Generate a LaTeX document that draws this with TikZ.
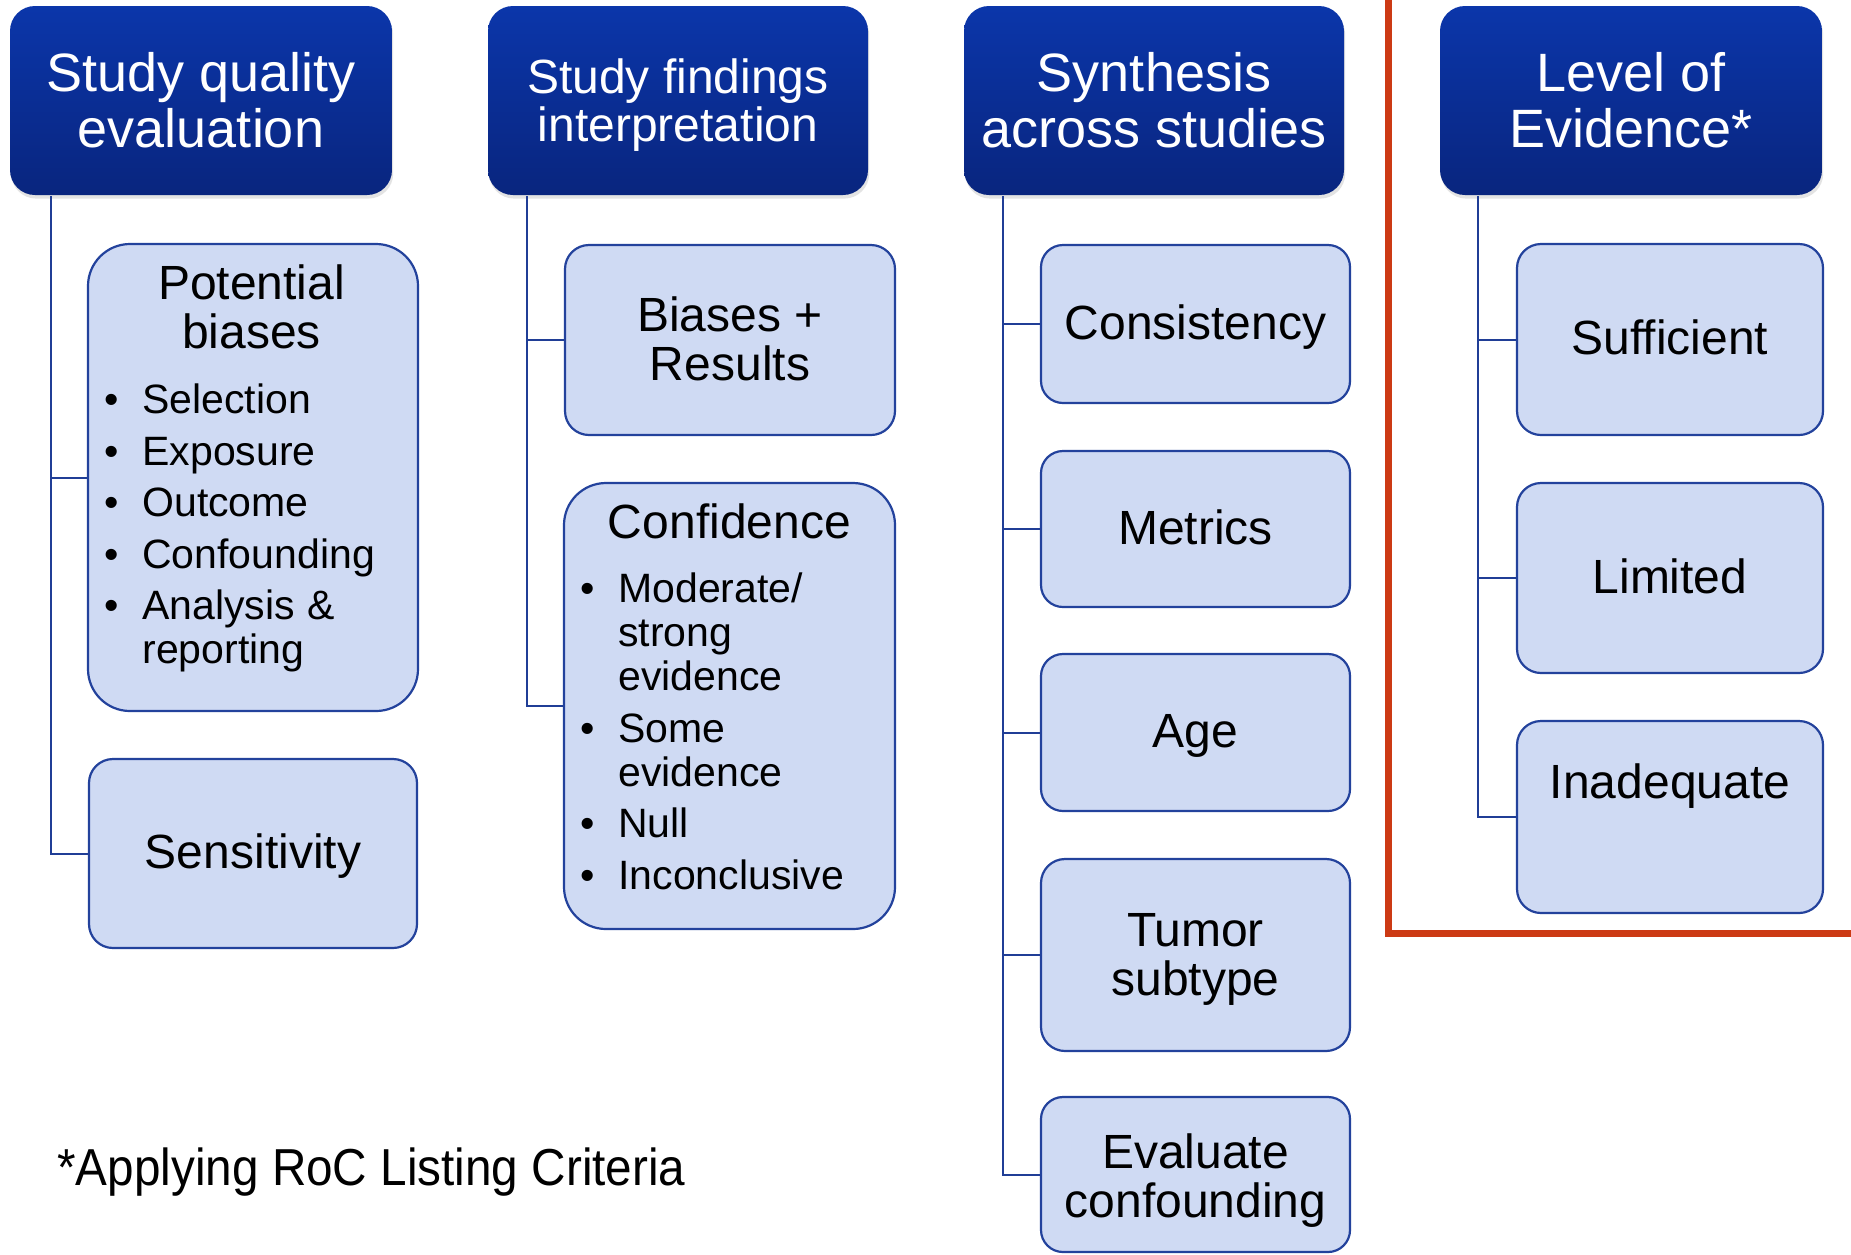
\documentclass[tikz,border=0pt]{standalone}
\usepackage{fontspec}
\setmainfont{Liberation Sans}
\usetikzlibrary{shadows,calc}

\definecolor{headtop}{RGB}{11,54,170}
\definecolor{headbot}{RGB}{9,37,126}
\definecolor{boxfill}{RGB}{207,218,243}
\definecolor{boxline}{RGB}{35,66,156}
\definecolor{linkblue}{RGB}{32,62,150}
\definecolor{framered}{RGB}{204,58,20}

% bulleted entries with a hanging indent
\newlength\bulind \setlength\bulind{19pt}
\newcommand\bitem{\par\vspace{3.75pt}\hangindent=\bulind\hangafter=1\noindent\makebox[\bulind][l]{\textbullet}}
% invisible strut that sets the height of a label's first line
\newcommand\lead[1]{\rule{0pt}{#1}}

\begin{document}
\begin{tikzpicture}[x=0.5pt,y=-0.5pt,
  header/.style={rounded corners=12.5pt, top color=headtop, bottom color=headbot,
    text=white, align=center, inner sep=0pt,
    font=\fontsize{27pt}{28pt}\selectfont,
    drop shadow={shadow xshift=0.6pt, shadow yshift=-1.8pt, opacity=0.22}},
  % fixed line struts so that every label sits on the same baseline grid
  evenlines/.style={execute at begin node={\rule{0pt}{20.4pt}},
    execute at end node={\rule[-5.4pt]{0pt}{0pt}}},
  child/.style={draw=boxline, line width=1.1pt, fill=boxfill, rounded corners=12pt,
    align=center, inner sep=0pt, font=\fontsize{24pt}{24.5pt}\selectfont, evenlines},
  link/.style={draw=linkblue, line width=1pt},
  listtext/.style={text width=#1, inner sep=0pt, anchor=base west}
]
\fill[white] (0,0) rectangle (1851,1254);
\useasboundingbox (0,0) rectangle (1851,1254);

% red frame around the level-of-evidence column
\draw[framered, line width=3.5pt] (1388,0) -- (1388,933) -- (1851,933);

% column headers
\node[header, minimum width=191pt, minimum height=94.5pt] (h1) at (201,100.5) {Study quality\\evaluation};
\node[header, evenlines, minimum width=190pt, minimum height=94.5pt, font=\fontsize{24pt}{24pt}\selectfont] (h2) at (678,100.5) {\lead{22.3pt}Study findings\\interpretation};
\node[header, minimum width=190pt, minimum height=94.5pt] (h3) at (1154,100.5) {Synthesis\\across studies};
\node[header, minimum width=191pt, minimum height=94.5pt] (h4) at (1631,100.5) {Level of\\Evidence*};

% column 1
\node[child, rounded corners=21pt, minimum width=165pt, minimum height=233.5pt] (pb) at (253,477.5) {};
\node[listtext=147pt] (pbtext) at (104,299) {\raggedright\fontsize{24pt}{24.5pt}\selectfont
  {\centering Potential\\biases\par}
  \vspace{7pt}
  \fontsize{20.5pt}{22pt}\selectfont
  \bitem Selection
  \bitem Exposure
  \bitem Outcome
  \bitem Confounding
  \bitem Analysis\hspace{3pt} \&\newline reporting\par};
\node[child, minimum width=164pt, minimum height=94.5pt] (sens) at (253,853.5) {Sensitivity};

% column 2
\node[child, minimum width=165pt, minimum height=95pt] (br) at (730,340) {\lead{21.3pt}Biases +\\Results};
\node[child, rounded corners=21pt, minimum width=165.5pt, minimum height=223pt] (conf) at (729.5,706) {};
\node[listtext=149pt] (conftext) at (580,538) {\raggedright\fontsize{24pt}{24.5pt}\selectfont
  {\centering Confidence\par}
  \vspace{6.5pt}
  \fontsize{20.5pt}{22pt}\selectfont
  \bitem Moderate/\newline strong\newline evidence
  \bitem Some\newline evidence
  \bitem Null
  \bitem Inconclusive\par};

% column 3
\node[child, rounded corners=11pt, minimum width=154.5pt, minimum height=79pt] (cons) at (1195.5,324) {Consistency};
\node[child, rounded corners=11pt, minimum width=154.5pt, minimum height=78pt] (metr) at (1195.5,529) {Metrics};
\node[child, rounded corners=11pt, minimum width=154.5pt, minimum height=78.5pt] (age) at (1195.5,732.5) {Age};
\node[child, minimum width=154.5pt, minimum height=96pt] (tum) at (1195.5,955) {\lead{21.3pt}Tumor\\subtype};
\node[child, rounded corners=11pt, minimum width=154.5pt, minimum height=77.5pt] (evc) at (1195.5,1174.5) {\lead{24pt}Evaluate\\confounding};

% column 4
\node[child, minimum width=153pt, minimum height=95.5pt] (suff) at (1670,339.5) {Sufficient};
\node[child, minimum width=153pt, minimum height=95pt] (lim) at (1670,578) {Limited};
\node[child, minimum width=153pt, text height=38.5pt, text depth=57.5pt] (inad) at (1670,817) {Inadequate};

% tree connectors
\coordinate (t1) at (51,196);
\coordinate (t2) at (527,196);
\coordinate (t3) at (1003,196);
\coordinate (t4) at (1478,196);
\draw[link] (t1) |- (pb.west);
\draw[link] (t1) |- (sens.west);
\draw[link] (t2) |- (br.west);
\draw[link] (t2) |- (conf.west);
\foreach \n in {cons,metr,age,tum,evc} \draw[link] (t3) |- (\n.west);
\foreach \n in {suff,lim,inad} \draw[link] (t4) |- (\n.west);

% footnote
\node[anchor=base west, inner sep=0pt, font=\fontsize{26pt}{28pt}\selectfont] (note) at (57,1185)
  {\scalebox{0.917}[1]{*Applying RoC Listing Criteria}};
\end{tikzpicture}
\end{document}
